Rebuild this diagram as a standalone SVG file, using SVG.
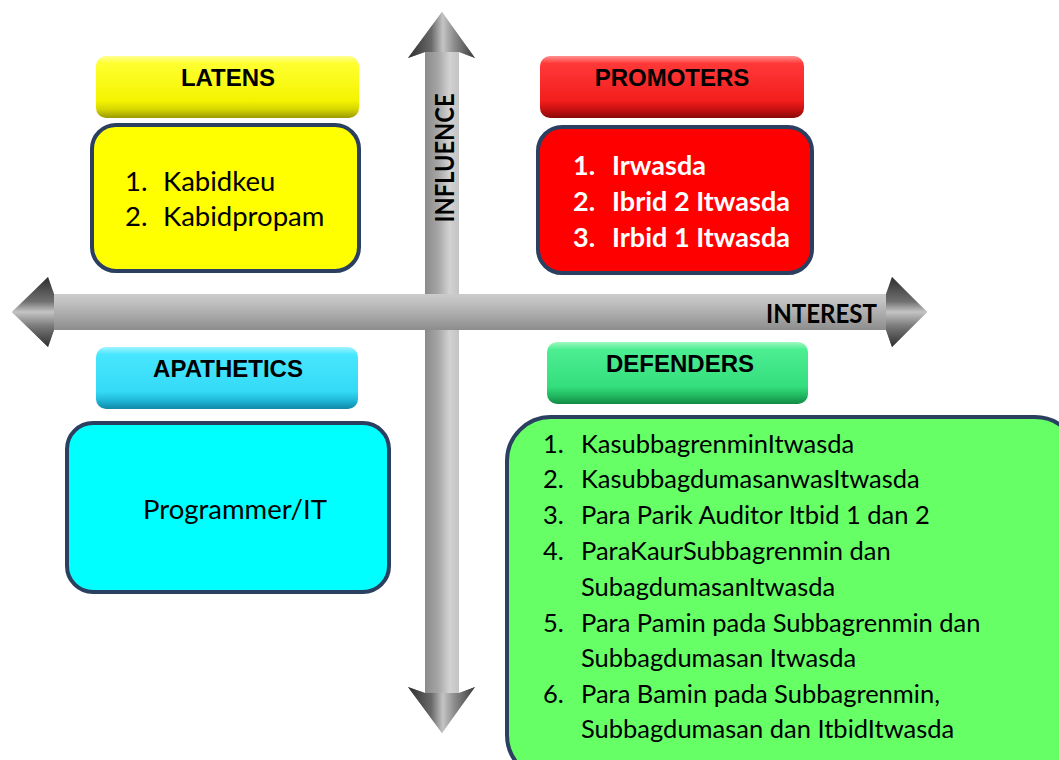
<svg xmlns="http://www.w3.org/2000/svg" width="1059" height="760" viewBox="0 0 1059 760">
  <defs>
    <linearGradient id="vShaft" x1="0" y1="0" x2="1" y2="0">
      <stop offset="0" stop-color="#6A6A6A"/>
      <stop offset="0.25" stop-color="#8A8A8A"/>
      <stop offset="0.45" stop-color="#A6A6A6"/>
      <stop offset="0.62" stop-color="#D2D2D2"/>
      <stop offset="0.82" stop-color="#BDBDBD"/>
      <stop offset="1" stop-color="#8A8A8A"/>
    </linearGradient>
    <linearGradient id="hShaft" x1="0" y1="0" x2="0" y2="1">
      <stop offset="0" stop-color="#8C8C8C"/>
      <stop offset="0.15" stop-color="#D4D4D4"/>
      <stop offset="0.35" stop-color="#C2C2C2"/>
      <stop offset="0.6" stop-color="#A2A2A2"/>
      <stop offset="0.85" stop-color="#808080"/>
      <stop offset="1" stop-color="#5E5E5E"/>
    </linearGradient>
    <linearGradient id="vHead" x1="0" y1="0" x2="1" y2="0">
      <stop offset="0" stop-color="#2E2E2E"/>
      <stop offset="0.35" stop-color="#6A6A6A"/>
      <stop offset="0.52" stop-color="#C4C4C4"/>
      <stop offset="0.7" stop-color="#8A8A8A"/>
      <stop offset="1" stop-color="#3A3A3A"/>
    </linearGradient>
    <linearGradient id="hHead" x1="0" y1="0" x2="0" y2="1">
      <stop offset="0" stop-color="#2E2E2E"/>
      <stop offset="0.35" stop-color="#707070"/>
      <stop offset="0.5" stop-color="#C4C4C4"/>
      <stop offset="0.7" stop-color="#7A7A7A"/>
      <stop offset="1" stop-color="#2E2E2E"/>
    </linearGradient>
    <linearGradient id="gYellow" x1="0" y1="0" x2="0" y2="1">
      <stop offset="0" stop-color="#FFFF90"/>
      <stop offset="0.12" stop-color="#FFFF30"/>
      <stop offset="0.72" stop-color="#F4F400"/>
      <stop offset="0.86" stop-color="#D6D600"/>
      <stop offset="1" stop-color="#9A9A00"/>
    </linearGradient>
    <linearGradient id="gRed" x1="0" y1="0" x2="0" y2="1">
      <stop offset="0" stop-color="#FF9090"/>
      <stop offset="0.12" stop-color="#FF3838"/>
      <stop offset="0.72" stop-color="#F41E1E"/>
      <stop offset="0.86" stop-color="#C81010"/>
      <stop offset="1" stop-color="#8A0A0A"/>
    </linearGradient>
    <linearGradient id="gCyan" x1="0" y1="0" x2="0" y2="1">
      <stop offset="0" stop-color="#A0F4FF"/>
      <stop offset="0.12" stop-color="#48E6FF"/>
      <stop offset="0.72" stop-color="#34DAF6"/>
      <stop offset="0.86" stop-color="#20B8D8"/>
      <stop offset="1" stop-color="#1288A8"/>
    </linearGradient>
    <linearGradient id="gGreen" x1="0" y1="0" x2="0" y2="1">
      <stop offset="0" stop-color="#A0F8C0"/>
      <stop offset="0.12" stop-color="#4CEE92"/>
      <stop offset="0.72" stop-color="#34DE7C"/>
      <stop offset="0.86" stop-color="#22BA62"/>
      <stop offset="1" stop-color="#128A44"/>
    </linearGradient>
  </defs>
  <style>
    .hdr { stroke: none; }
    .box { stroke: #2B3F60; stroke-width: 4; }
    .htxt { font-family: "Liberation Sans", Arial, sans-serif; font-weight: bold; font-size: 24px; fill: #000; text-anchor: middle; }
    .body { font-family: Lato, "Open Sans", sans-serif; font-size: 25.5px; fill: #000; }
    .big { font-family: Lato, "Open Sans", sans-serif; font-size: 27.5px; fill: #000; }
    .bodyw { font-family: Lato, "Open Sans", sans-serif; font-size: 27px; font-weight: bold; fill: #FFF; }
    .axis { font-family: Lato, "Liberation Sans", sans-serif; font-size: 26px; font-weight: bold; fill: #000; }
  </style>

  <g id="connectors">
    <g id="influence-axis">
      <path d="M442,12 L475,58 L459,52 L459,693 L475,687 L442,733 L408,687 L425,693 L425,52 L408,58 Z" fill="url(#vShaft)"/>
      <polygon points="442,12 475,58 459,52 425,52 408,58" fill="url(#vHead)"/>
      <polygon points="442,733 475,687 459,693 425,693 408,687" fill="url(#vHead)"/>
      <text class="axis" transform="translate(454,158) rotate(-90)" text-anchor="middle" textLength="129" lengthAdjust="spacingAndGlyphs">INFLUENCE</text>
    </g>
    <g id="interest-axis">
      <path d="M12,312 L48,277 L54,294 L886,294 L892,277 L927,312 L892,347 L886,330 L54,330 L48,347 Z" fill="url(#hShaft)"/>
      <polygon points="12,312 48,277 54,294 54,330 48,347" fill="url(#hHead)"/>
      <polygon points="927,312 892,277 886,294 886,330 892,347" fill="url(#hHead)"/>
      <text class="axis" x="766" y="323" textLength="111" lengthAdjust="spacingAndGlyphs">INTEREST</text>
    </g>
  </g>

  <g id="latens">
    <rect class="hdr" x="96" y="56" width="263" height="62" rx="10" fill="url(#gYellow)"/>
    <text class="htxt" x="228" y="86">LATENS</text>
    <rect class="box" x="92" y="125" width="267" height="146" rx="24" fill="#FFFF00"/>
    <text class="big" x="125" y="191">1.</text>
    <text class="big" x="163" y="191">Kabidkeu</text>
    <text class="big" x="125" y="226">2.</text>
    <text class="big" x="163" y="226">Kabidpropam</text>
  </g>

  <g id="promoters">
    <rect class="hdr" x="540" y="56" width="264" height="62" rx="10" fill="url(#gRed)"/>
    <text class="htxt" x="672" y="86">PROMOTERS</text>
    <rect class="box" x="538" y="127" width="274" height="146" rx="24" fill="#FF0000"/>
    <text class="bodyw" x="573" y="175">1.</text>
    <text class="bodyw" x="612" y="175">Irwasda</text>
    <text class="bodyw" x="573" y="211">2.</text>
    <text class="bodyw" x="612" y="211">Ibrid 2 Itwasda</text>
    <text class="bodyw" x="573" y="247">3.</text>
    <text class="bodyw" x="612" y="247">Irbid 1 Itwasda</text>
  </g>

  <g id="apathetics">
    <rect class="hdr" x="96" y="347" width="262" height="62" rx="10" fill="url(#gCyan)"/>
    <text class="htxt" x="228" y="377">APATHETICS</text>
    <rect class="box" x="67" y="423" width="322" height="169" rx="26" fill="#00FFFF"/>
    <text class="big" x="143" y="519">Programmer/IT</text>
  </g>

  <g id="defenders">
    <rect class="hdr" x="547" y="342" width="261" height="62" rx="10" fill="url(#gGreen)"/>
    <text class="htxt" x="680" y="372">DEFENDERS</text>
    <rect class="box" x="507" y="417" width="572" height="362" rx="44" fill="#66FF66"/>
    <text class="body" x="543" y="453">1.</text>
    <text class="body" x="581" y="453">KasubbagrenminItwasda</text>
    <text class="body" x="543" y="488">2.</text>
    <text class="body" x="581" y="488">KasubbagdumasanwasItwasda</text>
    <text class="body" x="543" y="524">3.</text>
    <text class="body" x="581" y="524">Para Parik Auditor Itbid 1 dan 2</text>
    <text class="body" x="543" y="560">4.</text>
    <text class="body" x="581" y="560">ParaKaurSubbagrenmin dan</text>
    <text class="body" x="581" y="596">SubagdumasanItwasda</text>
    <text class="body" x="543" y="632">5.</text>
    <text class="body" x="581" y="632">Para Pamin pada Subbagrenmin dan</text>
    <text class="body" x="581" y="667">Subbagdumasan Itwasda</text>
    <text class="body" x="543" y="703">6.</text>
    <text class="body" x="581" y="703">Para Bamin pada Subbagrenmin,</text>
    <text class="body" x="581" y="738">Subbagdumasan dan ItbidItwasda</text>
  </g>
</svg>
